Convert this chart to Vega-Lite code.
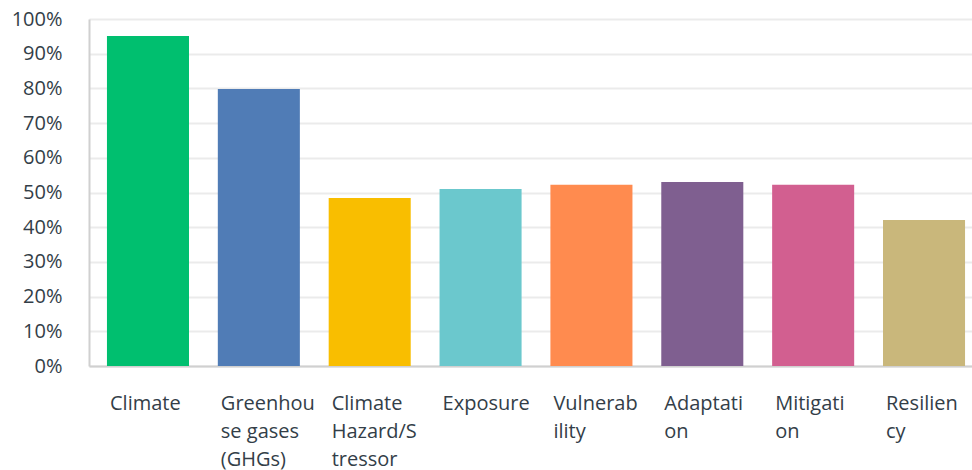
{
  "$schema": "https://vega.github.io/schema/vega-lite/v6.json",
  "autosize": {"type": "none"},
  "padding": {"left": 89, "top": 19, "right": 0, "bottom": 104},
  "width": 883,
  "height": 347,
  "background": "white",
  "data": {
    "values": [
      {"category": "Climate", "pct": 0.951},
      {"category": "Greenhouse gases (GHGs)", "pct": 0.798},
      {"category": "Climate Hazard/Stressor", "pct": 0.484},
      {"category": "Exposure", "pct": 0.510},
      {"category": "Vulnerability", "pct": 0.522},
      {"category": "Adaptation", "pct": 0.530},
      {"category": "Mitigation", "pct": 0.522},
      {"category": "Resiliency", "pct": 0.421}
    ]
  },
  "mark": {"type": "bar"},
  "encoding": {
    "x": {
      "field": "category",
      "type": "nominal",
      "sort": null,
      "scale": {"range": [0, 894], "paddingInner": 0.26, "paddingOuter": 0.162},
      "axis": {
        "title": null,
        "labelAngle": 0,
        "labelAlign": "left",
        "labelBaseline": "top",
        "labelOffset": -38,
        "labelPadding": 27,
        "labelFont": "Open Sans",
        "labelFontSize": 20,
        "labelColor": "#333e48",
        "labelLineHeight": 28,
        "labelLimit": 0,
        "ticks": false,
        "domainColor": "#d0d0d0",
        "domainWidth": 2,
        "labelExpr": "datum.value == 'Greenhouse gases (GHGs)' ? ['Greenhou', 'se gases', '(GHGs)'] : datum.value == 'Climate Hazard/Stressor' ? ['Climate', 'Hazard/S', 'tressor'] : datum.value == 'Vulnerability' ? ['Vulnerab', 'ility'] : datum.value == 'Adaptation' ? ['Adaptati', 'on'] : datum.value == 'Mitigation' ? ['Mitigati', 'on'] : datum.value == 'Resiliency' ? ['Resilien', 'cy'] : datum.value"
      }
    },
    "y": {
      "field": "pct",
      "type": "quantitative",
      "scale": {"domain": [0, 1], "nice": false},
      "axis": {
        "title": null,
        "format": ".0%",
        "values": [0, 0.1, 0.2, 0.3, 0.4, 0.5, 0.6, 0.7, 0.8, 0.9, 1],
        "ticks": false,
        "labelPadding": 27,
        "labelFont": "Open Sans",
        "labelFontSize": 20,
        "labelColor": "#333e48",
        "labelBaseline": "middle",
        "gridColor": "#ebebeb",
        "gridWidth": 2,
        "domainColor": "#d0d0d0",
        "domainWidth": 2
      }
    },
    "color": {
      "field": "category",
      "type": "nominal",
      "sort": null,
      "legend": null,
      "scale": {
        "domain": ["Climate", "Greenhouse gases (GHGs)", "Climate Hazard/Stressor", "Exposure", "Vulnerability", "Adaptation", "Mitigation", "Resiliency"],
        "range": ["#00bf6f", "#507cb6", "#f9be00", "#6bc8cd", "#ff8b4f", "#7f5f90", "#d25f90", "#c9b77b"]
      }
    }
  },
  "config": {"view": {"stroke": null}}
}
